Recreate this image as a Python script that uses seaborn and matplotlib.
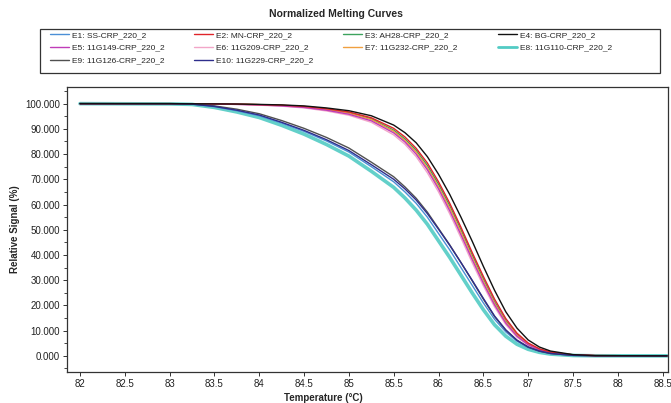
import matplotlib
matplotlib.use("Agg")
import matplotlib.pyplot as plt
import seaborn as sns
import pandas as pd
from matplotlib.ticker import MultipleLocator, FormatStrFormatter, FuncFormatter
from matplotlib.lines import Line2D
from matplotlib.patches import Rectangle
from matplotlib import font_manager

temps = [82, 83, 83.25, 83.5, 83.75, 84, 84.25, 84.5, 84.75, 85, 85.25, 85.5, 85.625,
         85.75, 85.875, 86, 86.125, 86.25, 86.375, 86.5, 86.625, 86.75, 86.875, 87,
         87.125, 87.25, 87.5, 87.75, 88.55]

e1_ss = [100, 99.95, 99.8, 98.8, 97.2, 95.2, 92.3, 89, 85.2, 80.8, 75, 69, 65, 60.5, 55,
         48.5, 42, 35, 28, 21, 14.5, 9.5, 5.8, 3.3, 1.8, 0.9, 0.2, 0.05, 0]
e2_mn = [100, 100, 99.95, 99.9, 99.8, 99.6, 99.4, 98.9, 98.0, 96.7, 94.4, 90.2, 86.8, 82.3,
         76.5, 69, 60.5, 51, 41, 31.5, 22.5, 14.8, 9, 5.1, 2.8, 1.5, 0.4, 0.1, 0]
e3_ah28 = [100, 100, 99.9, 99.85, 99.8, 99.6, 99.3, 98.8, 97.8, 96.4, 94.0, 89.5, 86, 81.5,
           75.5, 68, 59.5, 50, 40, 30.5, 21.5, 14, 8.5, 4.8, 2.6, 1.4, 0.4, 0.1, 0]
e4_bg = [100, 100, 99.95, 99.9, 99.85, 99.7, 99.5, 99.1, 98.3, 97.2, 95.2, 91.5, 88.5, 84.5,
         79, 72, 64, 55, 45.5, 35.5, 26, 17.5, 11, 6.3, 3.5, 1.9, 0.5, 0.1, 0]
e5_11g149 = [100, 100, 99.95, 99.85, 99.7, 99.5, 99.1, 98.5, 97.4, 95.8, 93.2, 88.4, 84.8, 80,
             73.8, 66.2, 57.5, 48, 38.2, 28.8, 20.2, 13, 7.8, 4.4, 2.4, 1.3, 0.35, 0.1, 0]
e6_11g209 = [100, 100, 99.9, 99.85, 99.7, 99.4, 99.0, 98.3, 97.1, 95.4, 92.6, 87.6, 83.9, 79,
             72.6, 65, 56.3, 46.8, 37, 27.8, 19.4, 12.4, 7.4, 4.2, 2.3, 1.2, 0.35, 0.1, 0]
e7_11g232 = [100, 100, 99.95, 99.9, 99.8, 99.6, 99.3, 98.7, 97.7, 96.2, 93.7, 89, 85.4, 80.8,
             74.6, 67, 58.5, 49, 39, 29.6, 20.8, 13.5, 8.2, 4.6, 2.5, 1.3, 0.4, 0.1, 0]
e8_11g110 = [100, 99.9, 99.7, 98.5, 96.7, 94.5, 91.4, 87.9, 83.8, 79.2, 73.2, 66.8, 62.6, 57.8,
             52.2, 45.6, 39, 32, 25, 18.3, 12.3, 7.8, 4.6, 2.6, 1.4, 0.7, 0.15, 0.03, 0]
e9_11g126 = [100, 99.95, 99.85, 99.1, 97.8, 96, 93.3, 90.2, 86.6, 82.4, 76.8, 71, 67, 62.5, 57,
             50.5, 44, 37, 29.8, 22.5, 15.6, 10.2, 6.2, 3.5, 1.9, 0.95, 0.2, 0.05, 0]
e10_11g229 = [100, 99.95, 99.8, 98.9, 97.4, 95.5, 92.6, 89.4, 85.7, 81.4, 75.8, 70, 66.2, 61.8,
              56.4, 50.2, 43.8, 37, 30, 22.8, 15.8, 10.3, 6.2, 3.5, 1.9, 0.95, 0.2, 0.05, 0]

labels = ["E1: SS-CRP_220_2", "E2: MN-CRP_220_2", "E3: AH28-CRP_220_2", "E4: BG-CRP_220_2",
          "E5: 11G149-CRP_220_2", "E6: 11G209-CRP_220_2", "E7: 11G232-CRP_220_2",
          "E8: 11G110-CRP_220_2", "E9: 11G126-CRP_220_2", "E10: 11G229-CRP_220_2"]
series = [e1_ss, e2_mn, e3_ah28, e4_bg, e5_11g149, e6_11g209, e7_11g232, e8_11g110,
          e9_11g126, e10_11g229]
colors = ["#4b8fd6", "#e0242a", "#3da35d", "#111111", "#c03cb8", "#f2a6c8", "#f0a040",
          "#52cbc4", "#505050", "#2e2e8c"]
widths = [1.0, 1.0, 1.0, 1.0, 1.0, 1.0, 1.0, 2.6, 1.0, 1.0]
order = [7, 0, 2, 6, 5, 4, 1, 8, 9, 3]

sns.set_style("ticks")
plt.rcParams['font.family'] = ['Liberation Sans', 'DejaVu Sans']

installed = {f.name for f in font_manager.fontManager.ttflist}
if "Liberation Sans Narrow" in installed:
    leg_font = {"family": "Liberation Sans Narrow", "size": 7.3}
else:
    leg_font = {"family": "Liberation Sans", "size": 6.0}

W, H = 671, 403
fig = plt.figure(figsize=(W / 100, H / 100), dpi=100)
ax = fig.add_axes([67 / W, 1 - 372 / H, (668 - 67) / W, (372 - 87) / H])

for i in order:
    df = pd.DataFrame({"Temperature": temps, "Signal": series[i]})
    sns.lineplot(data=df, x="Temperature", y="Signal", ax=ax, color=colors[i],
                 linewidth=widths[i], alpha=0.9 if i == 7 else 1.0, legend=False)

ax.set_xlim(81.855, 88.56)
ax.set_ylim(-6.4, 106.6)
ax.xaxis.set_major_locator(MultipleLocator(0.5))
ax.xaxis.set_major_formatter(FuncFormatter(lambda v, p: f"{v:g}"))
ax.yaxis.set_major_locator(MultipleLocator(10))
ax.yaxis.set_minor_locator(MultipleLocator(5))
ax.yaxis.set_major_formatter(FormatStrFormatter("%.3f"))
ax.tick_params(axis='both', labelsize=7, length=3, width=0.7, color="#333333",
               labelcolor="#222222", pad=2)
ax.tick_params(axis='y', which='minor', length=2, width=0.6)
for s in ax.spines.values():
    s.set_color("#333333")
    s.set_linewidth(0.9)
ax.set_xlabel("Temperature (°C)", fontsize=7, fontweight="bold")
ax.xaxis.set_label_coords((323 - 67) / (668 - 67), -0.075)
ax.set_ylabel("Relative Signal (%)", fontsize=7, fontweight="bold", labelpad=4)

fig.text(0.5, 1 - 14 / H, "Normalized Melting Curves", ha="center", va="center",
         fontsize=7.5, fontweight="bold")

fig.patches.append(Rectangle((40 / W, 1 - 73 / H), (660 - 40) / W, 44 / H,
                             transform=fig.transFigure, fill=False,
                             edgecolor="#333333", linewidth=0.9))

handles = [Line2D([0], [0], color=colors[i], linewidth=1.0 if i != 7 else 2.0)
           for i in range(10)]
columns = [[0, 4, 8], [1, 5, 9], [2, 6], [3, 7]]
col_x = [50, 194, 343, 498]
for cx, idxs in zip(col_x, columns):
    fig.legend([handles[i] for i in idxs], [labels[i] for i in idxs],
               loc="upper left", bbox_to_anchor=(cx / W, 1 - 31 / H),
               bbox_transform=fig.transFigure, frameon=False, prop=leg_font,
               handlelength=2.3, handletextpad=0.4, labelspacing=0.6, borderpad=0,
               borderaxespad=0)

fig.savefig("out.png", dpi=100, facecolor="white")
